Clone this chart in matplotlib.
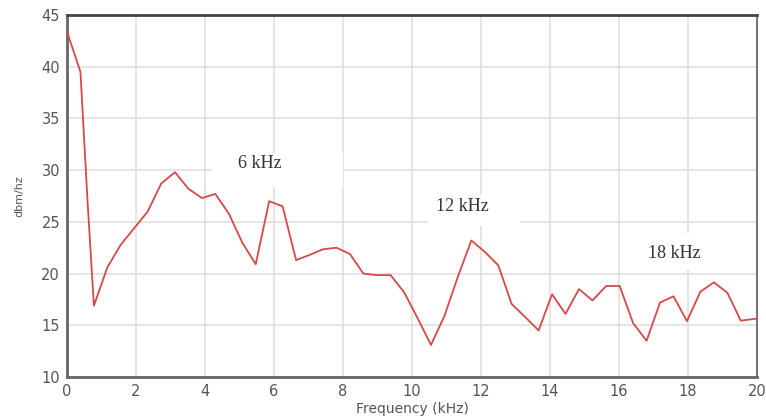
import matplotlib
matplotlib.use("Agg")
import matplotlib.pyplot as plt
from matplotlib.patches import Rectangle

freq_khz = [0.00, 0.39, 0.59, 0.78, 1.17, 1.56, 1.95, 2.34, 2.73, 3.13, 3.52, 3.91,
            4.30, 4.69, 5.08, 5.47, 5.86, 6.25, 6.64, 7.03, 7.42, 7.81, 8.20, 8.59,
            8.98, 9.38, 9.77, 10.16, 10.55, 10.94, 11.33, 11.72, 12.11, 12.50, 12.89,
            13.28, 13.67, 14.06, 14.45, 14.84, 15.23, 15.63, 16.02, 16.41, 16.80,
            17.19, 17.58, 17.97, 18.36, 18.75, 19.14, 19.53, 20.00]
level_dbm = [43.4, 39.5, 27.3, 16.9, 20.6, 22.8, 24.4, 26.0, 28.7, 29.8, 28.2, 27.3,
             27.7, 25.8, 23.0, 20.9, 27.0, 26.5, 21.3, 21.8, 22.35, 22.5, 21.9, 20.0,
             19.85, 19.85, 18.2, 15.7, 13.1, 15.9, 19.7, 23.2, 22.1, 20.8, 17.05,
             15.8, 14.5, 18.0, 16.1, 18.5, 17.4, 18.8, 18.8, 15.2, 13.5,
             17.2, 17.8, 15.4, 18.25, 19.15, 18.15, 15.45, 15.65]

annot_text = ["6 kHz", "12 kHz", "18 kHz"]
annot_x = [5.6, 11.45, 17.6]
annot_y = [30.6, 26.5, 21.9]

xticks = list(range(0, 21, 2))
yticks = list(range(10, 46, 5))

fig = plt.figure(figsize=(7.66, 4.18), dpi=100)
ax = fig.add_axes([67/766, 1-377/418, 690/766, 362/418])
ax.plot(freq_khz, level_dbm, color="#d94848", lw=1.3, zorder=4)
ax.set_xlim(0, 20)
ax.set_ylim(10, 45)
ax.set_xticks(xticks)
ax.set_yticks(yticks)
ax.grid(True, color="#dedede", lw=1.1, zorder=1)
ax.set_axisbelow(True)
ax.tick_params(length=0, pad=5, labelsize=10.5, labelcolor="#555555")

for side in ["left", "bottom"]:
    ax.spines[side].set_color("#666666")
    ax.spines[side].set_linewidth(2)
ax.spines["top"].set_color("#444444")
ax.spines["top"].set_linewidth(2)
ax.spines["right"].set_color("#777777")
ax.spines["right"].set_linewidth(1.5)

# white patches masking the grid around the labels (as in the reference)
for (x0, x1, y0, y1) in [(4.2, 8.0, 28.4, 31.65), (10.46, 13.13, 24.6, 27.6),
                         (16.7, 19.0, 20.3, 23.9)]:
    ax.add_patch(Rectangle((x0, y0), x1 - x0, y1 - y0, facecolor="white",
                           edgecolor="none", zorder=2))

for t, x, y in zip(annot_text, annot_x, annot_y):
    ax.text(x, y, t, ha="center", va="center", fontsize=13,
            family="Liberation Serif", color="#333333", zorder=5)

ax.set_xlabel("Frequency (kHz)", fontsize=10, color="#555555", labelpad=2)
ax.set_ylabel("dbm/hz", fontsize=8, color="#555555", labelpad=12)

fig.savefig("out.png", dpi=100)
